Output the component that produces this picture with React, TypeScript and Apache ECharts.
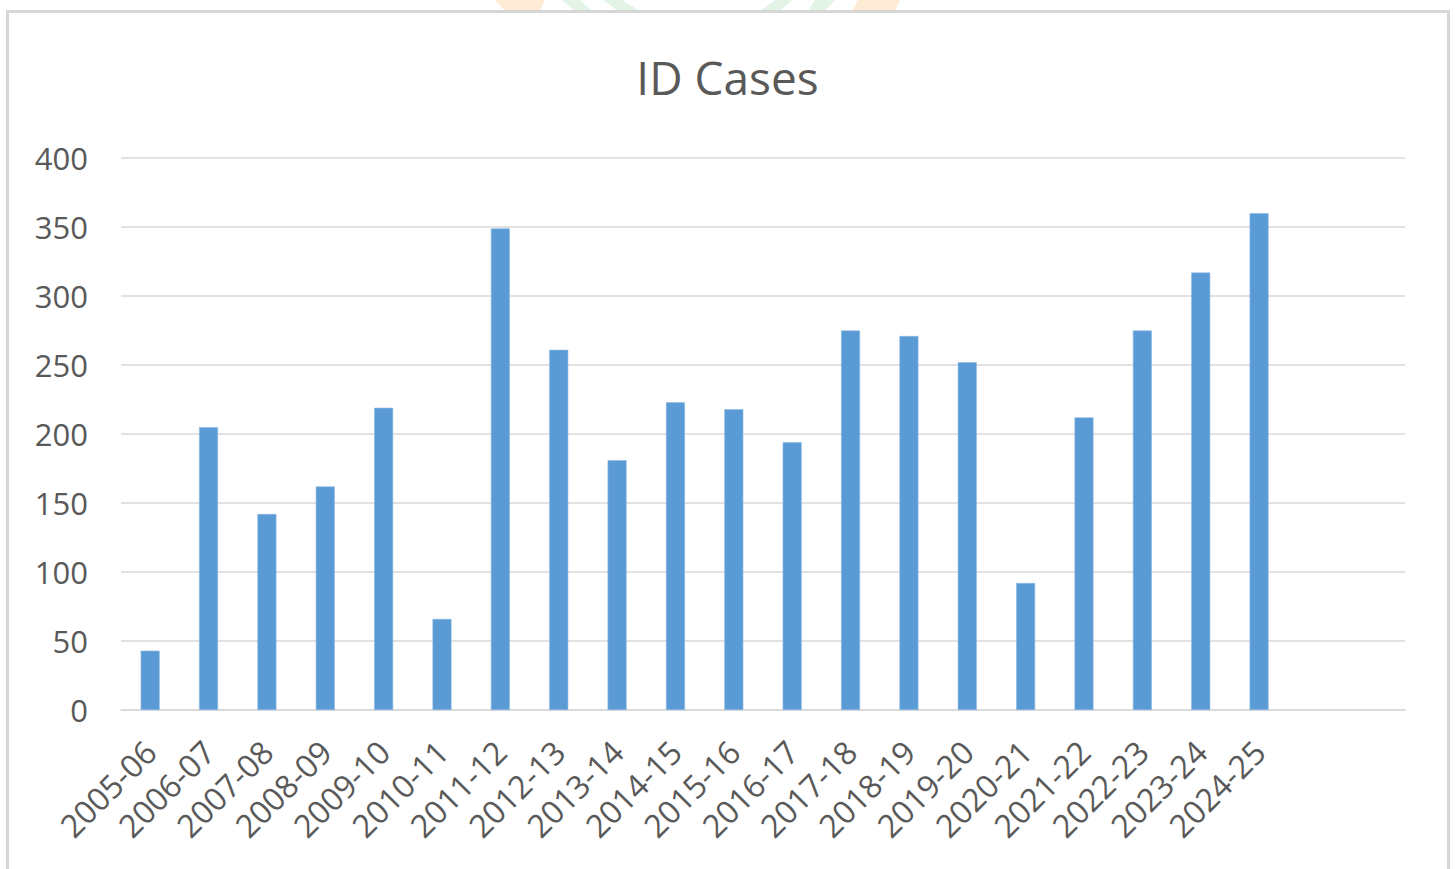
import React, { useEffect, useRef } from "react";
import * as echarts from "echarts";

const categories = [
  "2005-06", "2006-07", "2007-08", "2008-09", "2009-10", "2010-11", "2011-12",
  "2012-13", "2013-14", "2014-15", "2015-16", "2016-17", "2017-18", "2018-19",
  "2019-20", "2020-21", "2021-22", "2022-23", "2023-24", "2024-25", "", " ",
];
const idCases = [
  43, 205, 142, 162, 219, 66, 349, 261, 181, 223, 218, 194, 275, 271, 252, 92,
  212, 275, 317, 360, null, null,
];
const yTicks = { min: 0, max: 400, interval: 50 };
const titleText = "ID Cases";

export default function App() {
  const ref = useRef<HTMLDivElement>(null);
  useEffect(() => {
    if (!ref.current) return;
    const chart = echarts.init(ref.current, null, { renderer: "svg" });
    const font = "'Open Sans', 'Noto Sans', sans-serif";
    chart.setOption({
      animation: false,
      backgroundColor: "#ffffff",
      title: {
        text: titleText,
        left: "center",
        top: 49,
        textStyle: { fontFamily: font, fontSize: 46, fontWeight: "normal", color: "#595959" },
      },
      grid: { left: 121, right: 50, top: 158, bottom: 159, containLabel: false },
      xAxis: {
        type: "category",
        data: categories,
        axisTick: { show: false },
        axisLine: { lineStyle: { color: "#d9d9d9", width: 1.5 } },
        axisLabel: {
          rotate: 45,
          interval: 0,
          margin: 36,
          fontFamily: font,
          fontSize: 32,
          color: "#595959",
        },
      },
      yAxis: {
        type: "value",
        min: yTicks.min,
        max: yTicks.max,
        interval: yTicks.interval,
        axisLine: { show: false },
        axisTick: { show: false },
        splitLine: { lineStyle: { color: "#d9d9d9", width: 1.5 } },
        axisLabel: { margin: 33, fontFamily: font, fontSize: 31, color: "#595959" },
      },
      series: [
        {
          type: "bar",
          name: titleText,
          data: idCases,
          barWidth: 19,
          itemStyle: { color: "#5b9bd5", borderColor: "#8bb8e3", borderWidth: 0.6 },
        },
      ],
      graphic: [
        { type: "polygon", shape: { points: [[495, 0], [545, 0], [540, 11], [505, 11]] }, style: { fill: "#fdebd6" }, silent: true },
        { type: "polygon", shape: { points: [[562, 0], [580, 0], [592, 11], [575, 11]] }, style: { fill: "#e3f4e6" }, silent: true },
        { type: "polygon", shape: { points: [[603, 0], [622, 0], [640, 11], [618, 11]] }, style: { fill: "#e3f4e6" }, silent: true },
        { type: "polygon", shape: { points: [[775, 0], [792, 0], [780, 11], [760, 11]] }, style: { fill: "#e3f4e6" }, silent: true },
        { type: "polygon", shape: { points: [[815, 0], [835, 0], [825, 11], [808, 11]] }, style: { fill: "#e3f4e6" }, silent: true },
        { type: "polygon", shape: { points: [[858, 0], [900, 0], [895, 11], [852, 11]] }, style: { fill: "#fdebd6" }, silent: true },
        {
          type: "rect",
          shape: { x: 7.5, y: 11.5, width: 1441, height: 900 },
          style: { fill: "none", stroke: "#d6d6d6", lineWidth: 3 },
          silent: true,
        },
      ],
    });
    return () => chart.dispose();
  }, []);
  return (
    <div
      ref={ref}
      style={{ position: "fixed", left: 0, top: 0, width: 1455, height: 869 }}
    />
  );
}
